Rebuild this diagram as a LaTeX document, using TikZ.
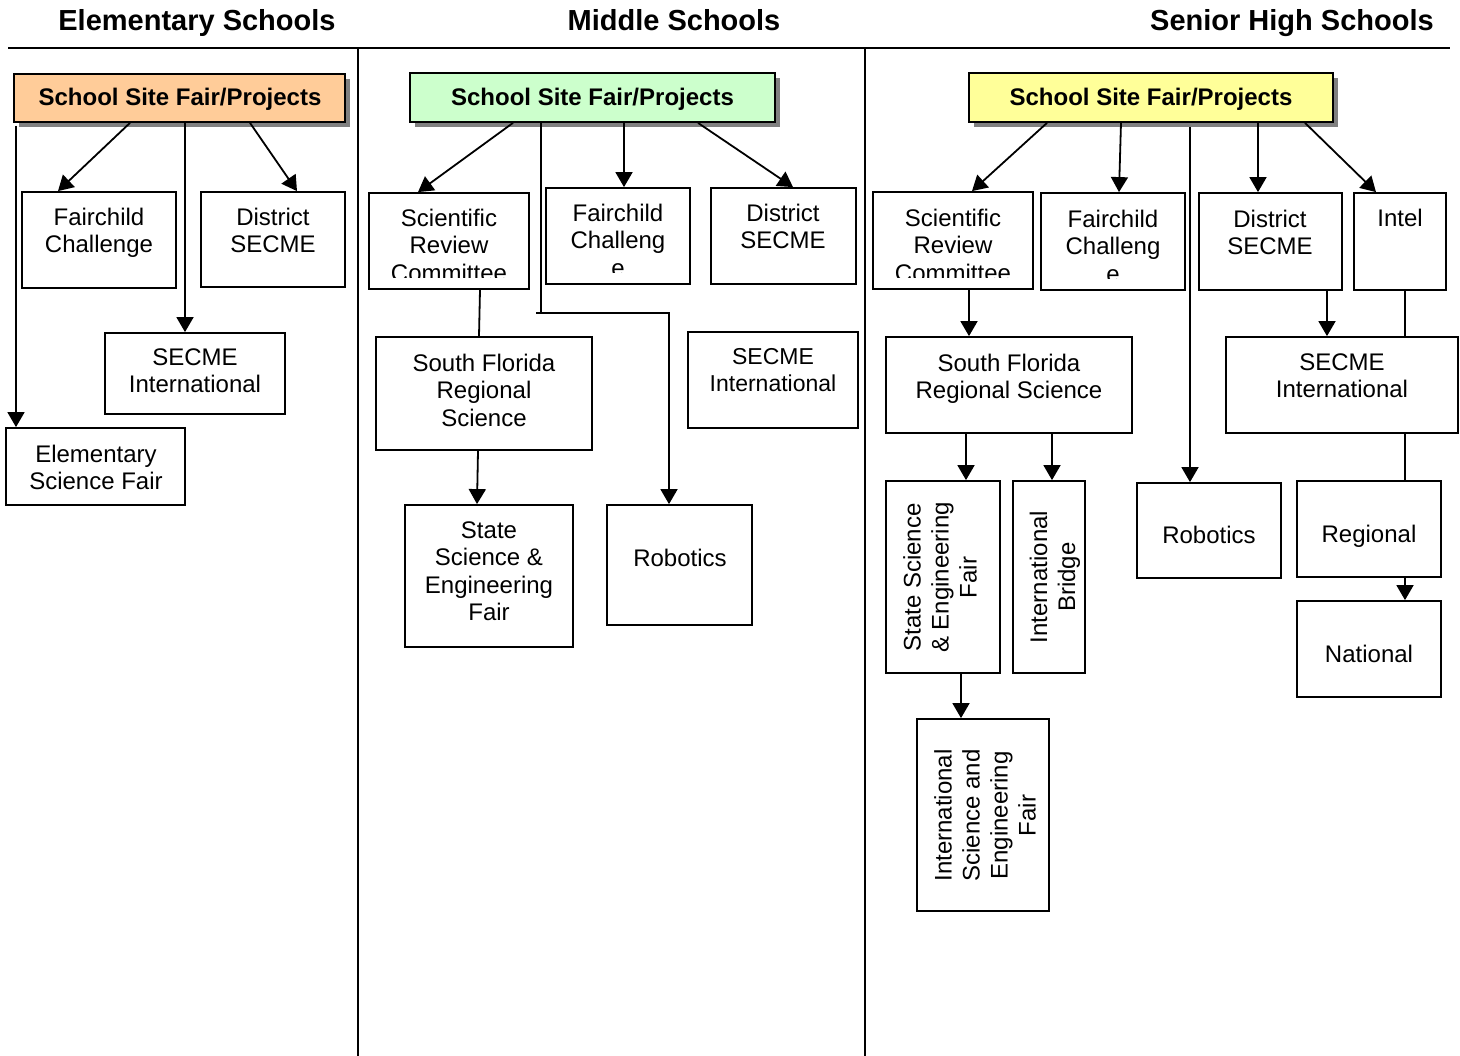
\documentclass[tikz,border=0pt]{standalone}
\usepackage{fontspec}
\setmainfont{Liberation Sans}
\usetikzlibrary{arrows.meta,fit,shadows}
\definecolor{hOrange}{HTML}{FFCC99}
\definecolor{hGreen}{HTML}{CCFFCC}
\definecolor{hYellow}{HTML}{FFFF99}
\begin{document}
\begin{tikzpicture}[x=1pt,y=-1pt,
  box/.style={draw,line width=1.8pt,inner sep=0pt,fill=white},
  head/.style={box,drop shadow={shadow xshift=5pt,shadow yshift=-5pt,fill=black!50,opacity=1}},
  txt/.style={anchor=north,inner sep=0pt,align=center,font=\fontsize{24}{27.5}\selectfont,execute at begin node={\rule{0pt}{18pt}}},
  stxt/.style={txt,font=\fontsize{23}{27}\selectfont},
  rtxt/.style={rotate=90,inner sep=0pt,align=center,font=\fontsize{24}{28}\selectfont},
  htxt/.style={anchor=base,inner sep=0pt,font=\bfseries\fontsize{24}{28}\selectfont},
  ttl/.style={anchor=base,inner sep=0pt,font=\bfseries\fontsize{29}{34}\selectfont},
  arr/.style={line width=1.8pt,-{Triangle[length=15pt,width=17pt]}},
  ln/.style={line width=1.8pt}]
\useasboundingbox (0,0) rectangle (1460,1056);

% titles and dividers
\node[ttl] (t1) at (197,31) {Elementary Schools};
\node[ttl] (t2) at (674,31) {Middle Schools};
\node[ttl] (t3) at (1292,31) {Senior High Schools};
\draw[line width=2.4pt] (8,48) -- (1450,48);
\draw[line width=1.8pt] (358,48) -- (358,1056);
\draw[line width=1.8pt] (865,48) -- (865,1056);

% ---------- Elementary ----------
\node[head,fill=hOrange,fit={(14,74) (345,122)}] (hL) {};
\node[htxt] (hLt) at (180,105.5) {School Site Fair/Projects};
\node[box,fit={(22,192) (176,288)}] (fcL) {};
\node[txt] (fcLt) at (99,207.5) {Fairchild\\Challenge};
\node[box,fit={(201,192) (345,287)}] (dsL) {};
\node[txt] (dsLt) at (273,207.5) {District\\SECME};
\node[box,fit={(105,333) (285,414)}] (siL) {};
\node[txt] (siLt) at (195,348.5) {SECME\\International};
\node[box,fit={(6,428) (185,505)}] (esL) {};
\node[txt] (esLt) at (96,444.5) {Elementary\\Science Fair};

\draw[arr] (hL.south -| 130,0) -- (fcL.north -| 58,0);
\draw[arr] (hL.south -| 250,0) -- (dsL.north -| 297,0);
\draw[arr] (hL.south -| 185,0) -- (siL.north -| 185,0);
\draw[arr] ([yshift=-3pt]hL.south -| 16,0) -- (esL.north -| 16,0);

% ---------- Middle ----------
\node[head,fill=hGreen,fit={(410,73) (775,122)}] (hM) {};
\node[htxt] (hMt) at (592.5,105.5) {School Site Fair/Projects};
\node[box,fit={(369,193) (529,289)}] (srM) {};
\begin{scope}
\clip (369,193) rectangle (529,278);
\node[txt] (srMt) at (449,208.5) {Scientific\\Review\\Committee};
\end{scope}
\node[box,fit={(546,188) (690,284)}] (fcM) {};
\begin{scope}
\clip (546,188) rectangle (690,273);
\node[txt] (fcMt) at (618,203.5) {Fairchild\\Challeng\\e};
\end{scope}
\node[box,fit={(711,188) (856,284)}] (dsM) {};
\node[txt] (dsMt) at (783,203.5) {District\\SECME};
\node[box,fit={(688,332) (858,428)}] (siM) {};
\node[stxt] (siMt) at (773,348.5) {SECME\\International};
\node[box,fit={(376,337) (592,450)}] (sfM) {};
\node[txt] (sfMt) at (484,353.5) {South Florida\\Regional\\Science};
\node[box,fit={(405,505) (573,647)}] (ssM) {};
\node[txt] (ssMt) at (489,521.5) {State\\Science \&\\Engineering\\Fair};
\node[box,fit={(607,505) (752,625)}] (roM) {};
\node[txt] (roMt) at (680,548.5) {Robotics};

\coordinate (jM) at (541,313);
\coordinate (kM) at (536,313);
\coordinate (lM) at (669,313);
\draw[arr] (hM.south -| 513,0) -- (srM.north -| 418,0);
\draw[arr] (hM.south -| 624,0) -- (fcM.north -| 624,0);
\draw[arr] (hM.south -| 698,0) -- (dsM.north -| 793,0);
\draw[ln] (hM.south -| 541,0) -- (jM);
\draw[arr] (kM) -- (lM) -- (roM.north -| 669,0);
\draw[ln] (srM.south -| 480,0) -- (sfM.north -| 479,0);
\draw[arr] (sfM.south -| 478,0) -- (ssM.north -| 477,0);

% ---------- Senior High ----------
\node[head,fill=hYellow,fit={(969,73) (1333,122)}] (hR) {};
\node[htxt] (hRt) at (1151,105.5) {School Site Fair/Projects};
\node[box,fit={(873,192) (1033,289)}] (srR) {};
\begin{scope}
\clip (873,192) rectangle (1033,278);
\node[txt] (srRt) at (953,208.5) {Scientific\\Review\\Committee};
\end{scope}
\node[box,fit={(1041,193) (1185,290)}] (fcR) {};
\begin{scope}
\clip (1041,193) rectangle (1185,279);
\node[txt] (fcRt) at (1113,209.5) {Fairchild\\Challeng\\e};
\end{scope}
\node[box,fit={(1199,193) (1342,290)}] (dsR) {};
\node[txt] (dsRt) at (1270,209.5) {District\\SECME};
\node[box,fit={(1354,193) (1446,290)}] (inR) {};
\node[txt] (inRt) at (1400,208.5) {Intel};
\node[box,fit={(886,337) (1132,433)}] (sfR) {};
\node[txt] (sfRt) at (1009,353.5) {South Florida\\Regional Science};
\node[box,fit={(1226,337) (1458,433)}] (siR) {};
\node[txt] (siRt) at (1342,353.5) {SECME\\International};
\node[box,fit={(886,481) (1000,673)}] (ssR) {};
\node[rtxt] (ssRt) at (940,577.5) {State Science\\\& Engineering\\Fair};
\node[box,fit={(1013,481) (1085,673)}] (ibR) {};
\node[rtxt] (ibRt) at (1055,577) {International\\Bridge};
\node[box,fit={(917,719) (1049,911)}] (isR) {};
\node[rtxt] (isRt) at (985,815.5) {International\\Science and\\Engineering\\Fair};
\node[box,fit={(1137,483) (1281,578)}] (roR) {};
\node[txt] (roRt) at (1209,525.5) {Robotics};
\node[box,fit={(1297,481) (1441,577)}] (rgR) {};
\node[txt] (rgRt) at (1369,524.5) {Regional};
\node[box,fit={(1297,601) (1441,697)}] (naR) {};
\node[txt] (naRt) at (1369,644.5) {National};

\draw[arr] (hR.south -| 1047,0) -- (srR.north -| 972,0);
\draw[arr] (hR.south -| 1121,0) -- (fcR.north -| 1119,0);
\draw[arr] ([yshift=-4pt]hR.south -| 1190,0) -- (roR.north -| 1190,0);
\draw[arr] (hR.south -| 1258,0) -- (dsR.north -| 1258,0);
\draw[arr] (hR.south -| 1305,0) -- (inR.north -| 1376,0);
\draw[arr] (srR.south -| 969,0) -- (sfR.north -| 969,0);
\draw[arr] (dsR.south -| 1327,0) -- (siR.north -| 1327,0);
\draw[ln] (inR.south -| 1405,0) -- (siR.north -| 1405,0);
\draw[arr] (sfR.south -| 966,0) -- (ssR.north -| 966,0);
\draw[arr] (sfR.south -| 1052,0) -- (ibR.north -| 1052,0);
\draw[arr] (ssR.south -| 961,0) -- (isR.north -| 961,0);
\draw[ln] (siR.south -| 1405,0) -- (rgR.north -| 1405,0);
\draw[arr] (rgR.south -| 1405,0) -- (naR.north -| 1405,0);
\end{tikzpicture}
\end{document}
